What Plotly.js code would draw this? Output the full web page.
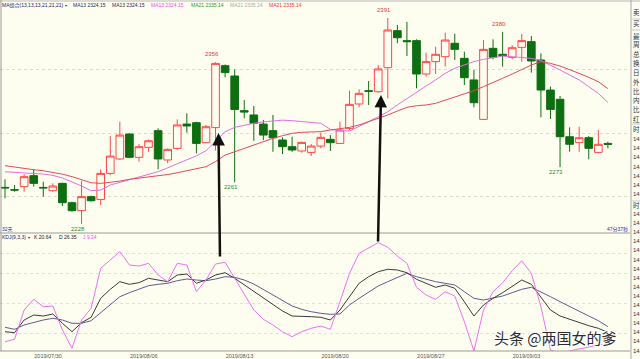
<!DOCTYPE html>
<html><head><meta charset="utf-8">
<script src="https://cdn.plot.ly/plotly-3.0.1.min.js"></script>
<style>html,body{margin:0;padding:0;background:#fefef0;overflow:hidden}#chart{width:640px;height:359px}</style>
</head><body><div id="chart"></div>
<script>
// ---- candle data ----
const open  = [2257.0,2255.2,2257.6,2266.3,2257.0,2254.4,2260.2,2244.9,2238.6,2249.7,2247.5,2268.1,2279.5,2299.2,2280.8,2288.7,2301.9,2278.7,2287.9,2307.1,2308.2,2292.4,2304.3,2353.3,2345.1,2317.7,2314.3,2307.1,2301.9,2294.5,2289.2,2285.8,2284.7,2289.7,2295.0,2291.8,2303.7,2323.0,2333.5,2332.7,2351.7,2381.0,2373.1,2373.1,2346.7,2356.5,2360.4,2371.0,2359.1,2342.0,2310.8,2367.0,2362.3,2359.9,2367.8,2372.3,2357.8,2334.0,2326.7,2297.1,2292.6,2296.3,2284.7,2291.8];
const high  = [2263.4,2258.9,2267.6,2271.5,2261.5,2260.2,2260.7,2245.7,2262.1,2250.4,2271.3,2297.6,2309.0,2299.8,2291.3,2295.0,2303.7,2287.9,2310.8,2315.6,2309.0,2306.4,2356.0,2354.3,2350.4,2326.1,2321.4,2310.3,2314.3,2296.6,2297.1,2293.2,2291.3,2300.3,2298.4,2309.0,2333.5,2334.6,2341.2,2353.8,2391.0,2385.5,2388.0,2374.1,2363.6,2368.3,2379.4,2378.5,2364.4,2349.9,2373.6,2374.1,2380.0,2369.6,2378.3,2376.8,2363.1,2336.7,2329.3,2304.5,2305.0,2297.6,2302.4,2293.2];
const low   = [2248.3,2253.6,2253.6,2257.6,2249.7,2253.6,2242.3,2237.8,2228.0,2245.7,2243.1,2266.8,2278.7,2280.0,2277.4,2285.2,2271.3,2276.0,2286.6,2300.3,2283.9,2291.8,2286.1,2344.1,2261.0,2311.6,2293.9,2294.5,2285.2,2283.4,2285.2,2284.5,2281.8,2287.9,2285.8,2291.3,2302.4,2320.3,2322.2,2331.9,2327.4,2371.0,2360.9,2335.4,2344.6,2346.7,2352.5,2357.8,2338.0,2320.3,2310.3,2358.3,2352.5,2358.3,2356.5,2347.8,2312.4,2311.1,2273.0,2285.2,2285.2,2279.2,2283.9,2287.9];
const close = [2256.6,2254.9,2265.5,2260.2,2256.6,2258.1,2244.9,2238.6,2249.7,2246.5,2268.1,2281.8,2298.4,2280.8,2289.2,2293.9,2279.5,2287.1,2306.4,2305.6,2291.8,2305.0,2355.1,2347.8,2318.7,2316.6,2307.7,2298.4,2296.3,2289.2,2286.6,2292.6,2289.7,2296.6,2292.4,2302.4,2322.7,2331.4,2333.0,2350.7,2381.5,2375.4,2372.3,2346.7,2356.5,2362.3,2373.6,2366.2,2343.8,2324.0,2366.2,2359.9,2361.2,2367.5,2373.1,2357.0,2334.0,2318.7,2297.1,2291.1,2296.3,2287.9,2291.1,2291.1];
// ---- moving averages ----
const ma13 = [2269.4,2268.8,2268.5,2268.0,2267.6,2266.5,2264.5,2261.5,2258.1,2254.4,2254.9,2258.9,2261.0,2263.4,2265.5,2267.2,2269.4,2272.5,2275.5,2278.7,2282.0,2286.0,2293.2,2301.1,2304.5,2306.2,2307.7,2308.8,2309.8,2310.2,2309.8,2309.2,2308.2,2307.7,2302.9,2301.9,2301.6,2305.0,2309.0,2312.9,2316.9,2322.2,2327.4,2332.7,2337.2,2342.0,2347.2,2351.2,2353.8,2356.5,2358.3,2359.9,2360.9,2360.4,2359.9,2359.1,2357.3,2353.8,2349.9,2345.9,2342.0,2336.7,2331.4,2324.15];
const ma21 = [2274.2,2273.0,2272.0,2271.0,2270.2,2269.0,2267.5,2265.5,2263.4,2260.7,2260.2,2261.0,2262.0,2263.4,2264.3,2265.2,2266.0,2267.2,2268.6,2270.2,2272.0,2273.4,2277.4,2282.6,2285.2,2288.0,2290.5,2293.2,2295.8,2297.9,2299.8,2300.6,2301.1,2301.1,2302.4,2303.2,2304.5,2306.4,2309.0,2311.4,2314.3,2317.4,2320.3,2321.6,2322.2,2323.5,2326.1,2328.2,2330.9,2333.5,2336.7,2339.8,2343.3,2346.7,2350.4,2353.8,2356.5,2355.1,2353.0,2350.4,2347.2,2344.1,2340.6,2335.14];
// ---- KDJ ----
const kLine = [21.3,20.3,33,38,37,39,29.7,21.3,30.3,35.7,54.7,63.7,71.3,68.7,70.3,74.7,73,71.3,78,79,69.7,73,78,80.3,74.7,68,61.3,54.7,48,42,37,37,36.3,35.7,33,43,56.3,69.7,76.3,81.3,83.7,83,80.3,73.7,69.7,65.7,68,64.7,51.3,37,48,54.7,60.3,66.3,73,68.7,56.3,43,37,33.7,30.3,27.3,24.7,20.64];
const dLine = [25.7,23.7,28,30.7,33,34.7,33,29.7,29.7,32.3,40.3,48,56.3,60.3,63.7,67.3,68.7,69.7,72.3,74,73,72.3,74,76.3,75.7,73,69,63.7,58,52.3,47,43.7,41.3,39.7,38.7,39,48,54.7,61.3,67,71.3,75.7,79.7,76.3,73.7,71.3,69.7,68,61.3,54.7,53,54.7,57,60.3,63.7,65.7,61.3,56.3,51.3,46.3,41.3,37,32.3,26.35];
const jLine = [11.3,13.7,43,53.7,46.3,47,23,4.7,33,44.7,84.7,93,101.3,88,87,89.7,78,71.3,89.7,88,61.3,73,89,90.7,74.7,58,43,33.7,28,21.3,16.3,21.3,24.7,27,23.7,51.3,79.7,99.7,104.7,110.3,105.7,97,89.7,65.7,58,53.7,61.3,57,31.3,2,43,61.3,70.3,82.3,92.3,79.7,46.3,3,0,2,4,6,8,9.24];
// ---- labels ----
const dateLabels = ['2019/07/30','2019/08/06','2019/08/13','2019/08/20','2019/08/27','2019/09/03'];
const datePos = [5.5,15.5,25.5,35.5,45.5,55.5];
const hiIdx = [23,41,53], hiVal = [2356,2391,2380];
const loIdx = [9,25,59],  loVal = [2228,2261,2273];
const maLegend = ['MA13 2324.15','MA13 2324.15','MA13 2324.15','MA21 2335.14','MA21 2335.14','MA21 2335.14'];
const kdLegend = ['K 20.64','D 26.35','J 9.24'];
const sideTop = ['卖','买'];
const sideRows = ['最','周','总','换','日','外','比','内','比','红'];

const bar = open.map((_, i) => i + 1);
const BG = '#fefef0';
const W = 640, H = 359;
const px = v => v / W, py = v => 1 - v / H;
const FONT = 'Liberation Sans, Noto Sans CJK SC, sans-serif';

const traces = [
  {type:'candlestick', x:bar, open, high, low, close, xaxis:'x', yaxis:'y',
   increasing:{line:{color:'#ff4646', width:1}, fillcolor:BG},
   decreasing:{line:{color:'#0e6e12', width:1}, fillcolor:'#0e6e12'},
   whiskerwidth:0, hoverinfo:'skip', showlegend:false},
  {type:'scatter', mode:'lines', x:bar, y:ma13, xaxis:'x', yaxis:'y', line:{color:'#e070e0', width:1}, hoverinfo:'skip'},
  {type:'scatter', mode:'lines', x:bar, y:ma21, xaxis:'x', yaxis:'y', line:{color:'#e04a5a', width:1}, hoverinfo:'skip'},
  {type:'scatter', mode:'lines', x:bar, y:dLine, xaxis:'x', yaxis:'y2', line:{color:'#5c5c8e', width:1}, hoverinfo:'skip'},
  {type:'scatter', mode:'lines', x:bar, y:kLine, xaxis:'x', yaxis:'y2', line:{color:'#3a3a3a', width:1}, hoverinfo:'skip'},
  {type:'scatter', mode:'lines', x:bar, y:jLine, xaxis:'x', yaxis:'y2', line:{color:'#f070f0', width:1}, hoverinfo:'skip'}
];

const ann = [];
const txt = (x, y, text, color, size, anchor) => ann.push({xref:'paper', yref:'paper', x:px(x), y:py(y), text, showarrow:false,
  xanchor:anchor||'left', yanchor:'middle', borderpad:0, font:{family:FONT, size:size||5, color}});

hiIdx.forEach((i, k) => ann.push({xref:'x', yref:'y', x:i, y:hiVal[k], text:String(hiVal[k]), showarrow:false, xshift:-4, yshift:8,
  font:{family:FONT, size:6, color:'#e03a3a'}}));
loIdx.forEach((i, k) => ann.push({xref:'x', yref:'y', x:i, y:loVal[k], text:String(loVal[k]), showarrow:false, xshift:-4, yshift:-5,
  font:{family:FONT, size:6, color:'#2a8a2a'}}));

txt(1, 5, 'MA组合(13,13,13,21,21,21)', '#1a1a70');
txt(64, 5.5, '▾', '#333', 4);
const maX = [72,111,150,190,229,268];
const maC = ['#2a2a50','#2a2a50','#ff40ff','#2a9a2a','#a8a8a8','#ff3030'];
maLegend.forEach((t, k) => txt(maX[k], 5, t, maC[k]));
txt(1, 229, '32天', '#2a2ab0');
txt(629, 229, '47分37秒', '#2a2ab0', 5, 'right');
txt(1, 237, 'KDJ(9,3,3)', '#1a1a70');
txt(27, 237.5, '▾', '#333', 4);
const kdX = [33,58,82];
const kdC = ['#222','#222','#ff40ff'];
kdLegend.forEach((t, k) => txt(kdX[k], 237, t, kdC[k]));

// side panel
sideTop.forEach((t, k) => txt(631.5, 13 + k * 11, t, '#333', 6.5));
sideRows.forEach((t, k) => txt(631.5, 36 + k * 9.2, t, '#333', 6.5));
txt(631.5, 129, '时', '#333', 6.5);
for (let r = 0; r < 7; r++) txt(631.5, 139 + r * 9.2, '14', '#333', 6);
txt(631.5, 205, '时', '#333', 6.5);
for (let r = 0; r < 16; r++) txt(631.5, 214 + r * 9.1, '14', '#333', 6);

// arrows
ann.push({xref:'paper', yref:'paper', x:px(218.5), y:py(133), ax:1.5, ay:125, text:'', showarrow:true,
  arrowhead:2, arrowsize:1, arrowwidth:2.5, arrowcolor:'#111', standoff:0});
ann.push({xref:'paper', yref:'paper', x:px(381), y:py(95), ax:-3, ay:148, text:'', showarrow:true,
  arrowhead:2, arrowsize:1, arrowwidth:2.5, arrowcolor:'#111', standoff:0});

// watermark
ann.push({xref:'paper', yref:'paper', x:px(555), y:py(337), text:'头条 @两国女的爹', showarrow:false, xanchor:'center', yanchor:'middle',
  font:{family:'Noto Sans CJK SC', size:15, color:'#2b2b2b',
  shadow:'1px 1px 0 #fff, -1px -1px 0 #fff, 1px -1px 0 #fff, -1px 1px 0 #fff'}});

const line = (x0, y0, x1, y1, c) => ({type:'line', xref:'paper', yref:'paper', x0:px(x0), y0:py(y0), x1:px(x1), y1:py(y1),
  line:{color:c||'#9a9a9a', width:1}});
const shapes = [
  line(0, 1, 640, 1, '#b8b8b8'),
  line(1, 0, 1, 351),
  line(0, 233, 630, 233),
  line(0, 351, 630, 351),
  line(631, 0, 631, 359, '#a8a8a8'),
  line(631, 19, 640, 19, '#c8c8c8'),
  line(631, 30, 640, 30, '#c8c8c8'),
  line(631, 124, 640, 124, '#c8c8c8'),
  line(631, 201, 640, 201, '#c8c8c8')
];

const layout = {
  width:W, height:H, margin:{l:0, r:0, t:0, b:0}, paper_bgcolor:BG, plot_bgcolor:BG,
  showlegend:false, boxgap:0.2, boxgroupgap:0, hovermode:false,
  xaxis:{domain:[0, 630/W], range:[0.4775, 66.31], anchor:'y2', showgrid:false, zeroline:false, showline:false,
    tickvals:datePos, ticktext:dateLabels, ticks:'', tickfont:{family:FONT, size:5.5, color:'#555'},
    rangeslider:{visible:false}, fixedrange:true},
  yaxis:{domain:[py(233), 1], range:[2220.94, 2405.24], showticklabels:false, tickvals:[2250,2300,2350],
    showgrid:true, gridcolor:'#dcdccb', griddash:'dot', gridwidth:1, zeroline:false, showline:false, fixedrange:true},
  yaxis2:{domain:[py(351), py(233)], range:[2, 120], showticklabels:false, tickvals:[20,50,80,100],
    showgrid:true, gridcolor:'#e2e2d2', griddash:'dot', gridwidth:1, zeroline:false, showline:false, fixedrange:true},
  annotations:ann, shapes
};
Plotly.newPlot('chart', traces, layout, {staticPlot:true, displayModeBar:false});
</script></body></html>
